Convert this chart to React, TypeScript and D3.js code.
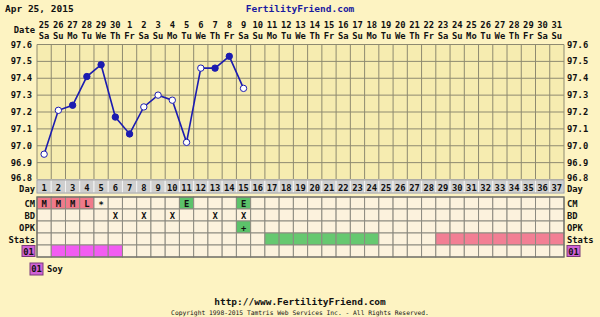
import React from "react";
import * as d3 from "d3";

const dates = ["25","26","27","28","29","30","1","2","3","4","5","6","7","8","9","10","11","12","13","14","15","16","17","18","19","20","21","22","23","24","25","26","27","28","29","30","31"];
const weekdays = ["Sa","Su","Mo","Tu","We","Th","Fr","Sa","Su","Mo","Tu","We","Th","Fr","Sa","Su","Mo","Tu","We","Th","Fr","Sa","Su","Mo","Tu","We","Th","Fr","Sa","Su","Mo","Tu","We","Th","Fr","Sa","Su"];
const days = d3.range(1, 38);
const tempTicks = [96.8, 96.9, 97.0, 97.1, 97.2, 97.3, 97.4, 97.5, 97.6];
const tempDays = [1,2,3,4,5,6,7,8,9,10,11,12,13,14,15];
const temps = [96.95,97.21,97.24,97.41,97.48,97.17,97.07,97.23,97.30,97.27,97.02,97.46,97.46,97.53,97.34];
const tempOpen = [true,true,false,false,false,false,false,true,true,true,true,true,false,false,true];
const cmDays = [1,2,3,4,5,11,15];
const cmVals = ["M","M","M","L","*","E","E"];
const bdDays = [6,8,10,13,15];
const opkDays = [15];
const opkVals = ["+"];
const statsGreen = [17,18,19,20,21,22,23,24];
const statsPink = [29,30,31,32,33,34,35,36,37];
const soyDays = [2,3,4,5,6];
const rowLabels = ["CM","BD","OPK","Stats","01"];

const W = 600, H = 317;
const X0 = 37, X1 = 564;
const Y_TOP = 44.5, Y_BOT = 179.5;
const FONT = "'DejaVu Sans Mono', monospace";
const BG = "#fdf3c2";
const PLOT = "#f6ecb0";
const GRID = "#8e8a70";
const CELL = "#fcf2dd";
const BLUE = "#1c1cb0";

export default function App() {
  const x = d3.scaleBand<number>().domain(days).range([X0, X1]).padding(0);
  const bw = x.bandwidth();
  const cx = (d: number) => (x(d) as number) + bw / 2;
  const y = d3.scaleLinear().domain([96.8, 97.6]).range([Y_BOT, Y_TOP]);
  const line = d3.line<number>().x((_, i) => cx(tempDays[i])).y((t) => y(t));

  const dayRowTop = 180, dayRowH = 13;
  const rowTop = 197, rowH = 12;
  const rowY = (i: number) => rowTop + i * rowH;

  return (
    <div style={{ position: "fixed", left: 0, top: 0 }}>
      <svg width={W} height={H} style={{ display: "block" }} fontFamily={FONT} fontWeight="bold">
        <rect width={W} height={H} fill={BG} />
        <text x={5} y={12} fontSize={9.5} fill="#111">Apr 25, 2015</text>
        <text x={300} y={12} fontSize={9.5} fill="#1a1aa0" textAnchor="middle">FertilityFriend.com</text>

        {/* date header */}
        <text x={35} y={33} fontSize={8.8} textAnchor="end" fill="#111">Date</text>
        {days.map((d, i) => (
          <g key={"h" + d}>
            <text x={cx(d)} y={28} fontSize={8.8} textAnchor="middle" fill="#111">{dates[i]}</text>
            <text x={cx(d)} y={39} fontSize={8.8} textAnchor="middle" fill="#111">{weekdays[i]}</text>
          </g>
        ))}

        {/* plot area */}
        <rect x={X0} y={Y_TOP} width={X1 - X0} height={Y_BOT - Y_TOP} fill={PLOT} />
        {tempTicks.map((t) => (
          <line key={"gy" + t} x1={X0} x2={X1} y1={y(t)} y2={y(t)} stroke={GRID} strokeWidth={1} />
        ))}
        {days.concat([38]).map((d) => {
          const xx = d === 38 ? X1 : (x(d) as number);
          return <line key={"gx" + d} x1={xx} x2={xx} y1={Y_TOP} y2={Y_BOT} stroke={GRID} strokeWidth={1} />;
        })}
        {tempTicks.map((t) => (
          <g key={"yl" + t}>
            <text x={32} y={y(t) + (t === 96.8 ? 1.5 : 3)} fontSize={8.8} textAnchor="end" fill="#111">{t.toFixed(1)}</text>
            <text x={567} y={y(t) + (t === 96.8 ? 1.5 : 3)} fontSize={8.8} fill="#111">{t.toFixed(1)}</text>
          </g>
        ))}

        <path d={line(temps) || ""} fill="none" stroke={BLUE} strokeWidth={1.6} />
        {temps.map((t, i) => (
          <circle key={"p" + i} cx={cx(tempDays[i])} cy={y(t)} r={3.2}
            fill={tempOpen[i] ? "#ffffff" : BLUE} stroke={BLUE} strokeWidth={1} />
        ))}

        {/* day row */}
        {days.map((d) => (
          <g key={"dr" + d}>
            <rect x={x(d) as number} y={dayRowTop} width={bw} height={dayRowH} fill="#cfcfcf" stroke="#f2f2f2" strokeWidth={1} />
            <text x={cx(d)} y={dayRowTop + 10.5} fontSize={8.8} textAnchor="middle" fill="#111">{d}</text>
          </g>
        ))}
        <rect x={X0} y={dayRowTop} width={X1 - X0} height={dayRowH} fill="none" stroke="#9a9a9a" strokeWidth={1} />
        <text x={35} y={dayRowTop + 12} fontSize={8.8} textAnchor="end" fill="#111">Day</text>
        <text x={567} y={dayRowTop + 12} fontSize={8.8} fill="#111">Day</text>

        {/* data rows */}
        {rowLabels.map((lab, r) => (
          <g key={"row" + lab}>
            {days.map((d) => {
              let fill = CELL;
              if (r === 0) {
                const k = cmDays.indexOf(d);
                if (k >= 0 && (cmVals[k] === "M" || cmVals[k] === "L")) fill = "#f07a8a";
                if (k >= 0 && cmVals[k] === "E") fill = "#5cc26a";
              }
              if (r === 2 && opkDays.indexOf(d) >= 0) fill = "#5cc26a";
              if (r === 3 && statsGreen.indexOf(d) >= 0) fill = "#66c870";
              if (r === 3 && statsPink.indexOf(d) >= 0) fill = "#f27f94";
              if (r === 4 && soyDays.indexOf(d) >= 0) fill = "#f25cf2";
              return (
                <rect key={"c" + lab + d} x={x(d) as number} y={rowY(r)} width={bw} height={rowH}
                  fill={fill} stroke="#8c8a80" strokeWidth={1} />
              );
            })}
            {lab !== "01" ? (
              <>
                <text x={35} y={rowY(r) + 9.5} fontSize={8.8} textAnchor="end" fill="#111">{lab}</text>
                <text x={567} y={rowY(r) + 9.5} fontSize={8.8} fill="#111">{lab}</text>
              </>
            ) : (
              <>
                <rect x={22} y={rowY(r) + 0.5} width={13} height={11} fill="#d062d6" stroke="#7a3a7a" strokeWidth={1} />
                <text x={28.5} y={rowY(r) + 9.5} fontSize={8.8} textAnchor="middle" fill="#111">01</text>
                <rect x={567} y={rowY(r) + 0.5} width={13} height={11} fill="#d062d6" stroke="#7a3a7a" strokeWidth={1} />
                <text x={573.5} y={rowY(r) + 9.5} fontSize={8.8} textAnchor="middle" fill="#111">01</text>
              </>
            )}
          </g>
        ))}
        <rect x={X0} y={rowTop} width={X1 - X0} height={rowH * 5} fill="none" stroke="#6f6d66" strokeWidth={1.2} />

        {/* row contents */}
        {cmDays.map((d, i) => (
          <text key={"cm" + d} x={cx(d)} y={rowY(0) + (cmVals[i] === "*" ? 11 : 9.5)} fontSize={8.8} textAnchor="middle" fill="#111">{cmVals[i]}</text>
        ))}
        {bdDays.map((d) => (
          <text key={"bd" + d} x={cx(d)} y={rowY(1) + 9.5} fontSize={8.8} textAnchor="middle" fill="#111">X</text>
        ))}
        {opkDays.map((d, i) => (
          <text key={"opk" + d} x={cx(d)} y={rowY(2) + 9.5} fontSize={8.8} textAnchor="middle" fill="#111">{opkVals[i]}</text>
        ))}

        {/* legend */}
        <rect x={30} y={263} width={13} height={12} fill="#d062d6" stroke="#7a3a7a" strokeWidth={1} />
        <text x={36.5} y={272} fontSize={8.8} textAnchor="middle" fill="#111">01</text>
        <text x={47} y={272} fontSize={8.8} fill="#111">Soy</text>

        {/* footer */}
        <text x={300} y={305} fontSize={9.5} textAnchor="middle" fill="#111">http://www.FertilityFriend.com</text>
        <text x={300} y={315} fontSize={6.3} fontWeight="normal" textAnchor="middle" fill="#111">Copyright 1998-2015 Tamtris Web Services Inc. - All Rights Reserved.</text>
      </svg>
    </div>
  );
}
